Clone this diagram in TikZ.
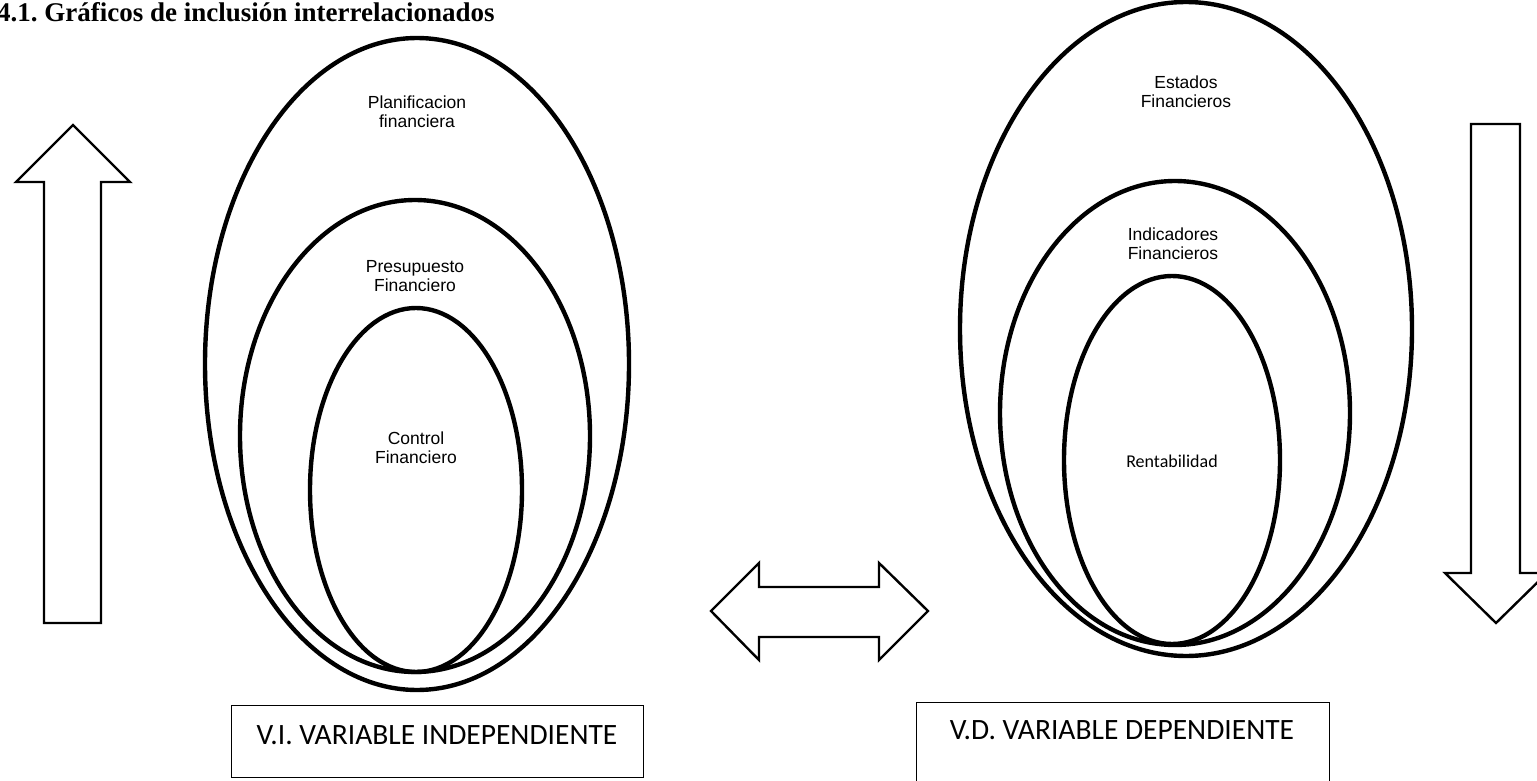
\documentclass[tikz,border=0pt]{standalone}
\usepackage{fontspec}
\usetikzlibrary{shapes.geometric}
\newfontfamily\arialf{Liberation Sans}
\newfontfamily\calibrif{Carlito}
\newfontfamily\timesf{Liberation Serif}
\frenchspacing
\begin{document}
\begin{tikzpicture}[x=1pt,y=-1pt,
  ring/.style={draw, ellipse, line width=4.4pt, inner sep=0pt},
  lbl/.style={font=\arialf\fontsize{17.5}{19}\selectfont, align=center, inner sep=0pt},
  bigarrow/.style={draw, line width=2.4pt, line join=miter, fill=white},
  varbox/.style={draw, line width=1.3pt, inner sep=0pt, anchor=north west},
  vartext/.style={font=\calibrif\fontsize{29.5}{32}\selectfont, inner sep=0pt}]
\useasboundingbox (0,0) rectangle (1537,781);
\clip (0,0) rectangle (1537,781);
% title
\node[anchor=base west, inner sep=0pt, font=\timesf\bfseries\fontsize{27}{30}\selectfont] (title) at (-3,22) {4.1. Gráficos de inclusión interrelacionados};
% left ellipses
\node[ring, minimum width=424pt, minimum height=652pt] (plan) at (417,364) {};
\node[ring, minimum width=350pt, minimum height=472pt] (pres) at (415,436) {};
\node[ring, minimum width=212pt, minimum height=364pt] (ctrl) at (416,490) {};
\node[lbl] (tplan) at (417,112) {Planificacion\\financiera};
\node[lbl] (tpres) at (415,276) {Presupuesto\\Financiero};
\node[lbl] (tctrl) at (416,448) {Control\\Financiero};
% right ellipses
\node[ring, minimum width=452pt, minimum height=654pt] (est) at (1186,329) {};
\node[ring, minimum width=350pt, minimum height=464pt] (ind) at (1175,413) {};
\node[ring, minimum width=216pt, minimum height=368pt] (rent) at (1172,460) {};
\node[lbl] (test) at (1186,92) {Estados\\Financieros};
\node[lbl] (tind) at (1173,244) {Indicadores\\Financieros};
\node[inner sep=0pt, font=\calibrif\fontsize{18}{20}\selectfont] (trent) at (1172,461) {Rentabilidad};
% up arrow
\draw[bigarrow] (73,125) -- (130,182) -- (101,182) -- (101,623) -- (44,623) -- (44,182) -- (16,182) -- cycle;
% down arrow
\draw[bigarrow] (1471,124) -- (1520,124) -- (1520,573) -- (1547,573) -- (1496,623) -- (1445,573) -- (1471,573) -- cycle;
% double arrow
\draw[bigarrow] (711,611) -- (759,563) -- (759,587) -- (879,587) -- (879,563) -- (928,611) -- (879,660) -- (879,637) -- (759,637) -- (759,660) -- cycle;
% boxes
\node[varbox, minimum width=412pt, minimum height=72pt] (vi) at (231,705) {};
\node[vartext] (tvi) at (437,735) {V.I. VARIABLE INDEPENDIENTE};
\node[varbox, minimum width=413pt, minimum height=100pt] (vd) at (916,702) {};
\node[vartext] (tvd) at (1122,730) {V.D. VARIABLE DEPENDIENTE};
\end{tikzpicture}
\end{document}
